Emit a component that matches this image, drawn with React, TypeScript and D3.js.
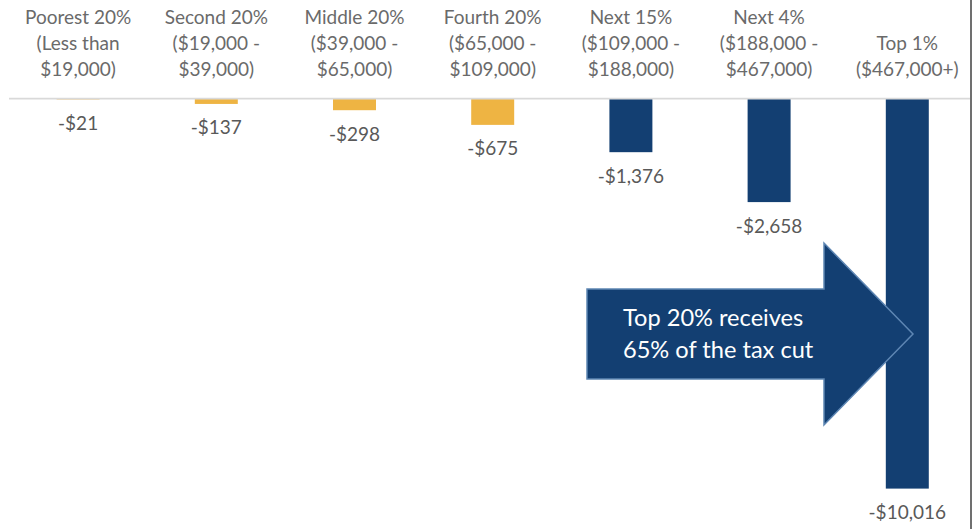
import React from "react";
import * as d3 from "d3";

const categories = ["Poorest 20%", "Second 20%", "Middle 20%", "Fourth 20%", "Next 15%", "Next 4%", "Top 1%"];
const incomeRanges = [
  ["(Less than", "$19,000)"],
  ["($19,000 -", "$39,000)"],
  ["($39,000 -", "$65,000)"],
  ["($65,000 -", "$109,000)"],
  ["($109,000 -", "$188,000)"],
  ["($188,000 -", "$467,000)"],
  ["($467,000+)"],
];
const taxChange = [-21, -137, -298, -675, -1376, -2658, -10016];
const groups = ["bottom80", "bottom80", "bottom80", "bottom80", "top20", "top20", "top20"];
const calloutLines = ["Top 20% receives", "65% of the tax cut"];

const W = 976;
const H = 529;
const GOLD = "#EEB443";
const NAVY = "#133F72";
const FONT = "Lato, 'Open Sans', sans-serif";

const fmt = (v: number) => "-$" + d3.format(",")(Math.abs(v));

export default function App() {
  const x = d3.scaleBand<string>().domain(categories).range([9, 976.4]).paddingInner(0.689).paddingOuter(0.3445);
  const y = d3.scaleLinear().domain([0, -10016]).range([98.6, 488.6]);
  const baseY = y(0);

  const arrow = "M587,289 L824,289 L824,243 L913,334 L824,425 L824,379 L587,379 Z";

  return (
    <svg width={W} height={H} style={{ position: "absolute", left: 0, top: 0, background: "#fff" }} fontFamily={FONT}>
      {/* category labels */}
      {categories.map((c, i) => {
        const lines = [c, ...incomeRanges[i]];
        const cx = (x(c) as number) + x.bandwidth() / 2;
        return (
          <text key={c} textAnchor="middle" fontSize={19} fill="#6A6A6A">
            {lines.map((l, j) => (
              <tspan key={j} x={cx} y={76 - (lines.length - 1 - j) * 26}>{l}</tspan>
            ))}
          </text>
        );
      })}
      {/* bars */}
      {categories.map((c, i) => (
        <rect
          key={c}
          x={x(c)}
          y={baseY}
          width={x.bandwidth()}
          height={y(taxChange[i]) - baseY}
          fill={groups[i] === "top20" ? NAVY : GOLD}
        />
      ))}
      {/* baseline */}
      <line x1={9} x2={970} y1={baseY} y2={baseY} stroke="#D9D9D9" strokeWidth={1.8} />
      {/* value labels */}
      {categories.map((c, i) => (
        <text
          key={c}
          x={(x(c) as number) + x.bandwidth() / 2}
          y={y(taxChange[i]) + 30.5}
          textAnchor="middle"
          fontSize={19}
          fill="#595959"
        >
          {fmt(taxChange[i])}
        </text>
      ))}
      {/* callout arrow */}
      <path d={arrow} fill={NAVY} stroke="#5E86B3" strokeWidth={1.5} strokeLinejoin="miter" />
      <text fontSize={23.6} fill="#ffffff">
        {calloutLines.map((l, j) => (
          <tspan key={j} x={623} y={326 + j * 32}>{l}</tspan>
        ))}
      </text>
      {/* right border */}
      <line x1={971} x2={971} y1={0} y2={H} stroke="#404040" strokeWidth={1.5} />
    </svg>
  );
}
